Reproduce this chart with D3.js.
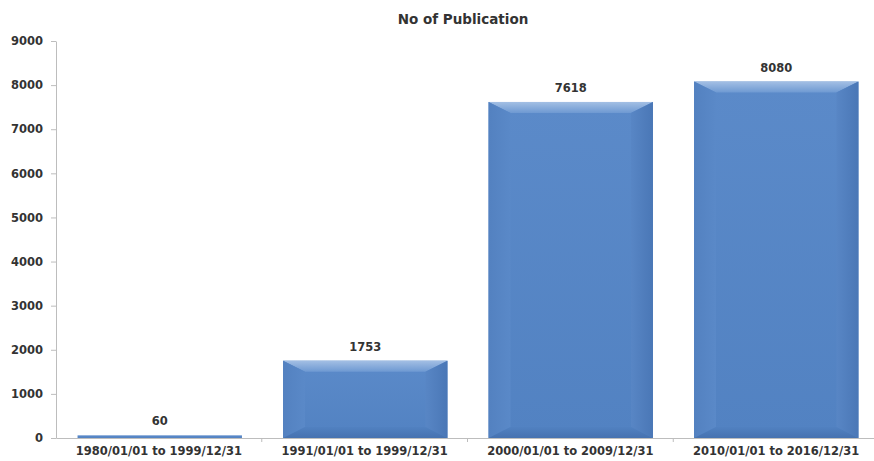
<!doctype html>
<html>
<head>
<meta charset="utf-8">
<title>No of Publication</title>
<script src="https://cdn.jsdelivr.net/npm/d3@7"></script>
<style>
  body { margin: 0; background: #fff; }
  text { font-family: "DejaVu Sans", Verdana, sans-serif; font-weight: bold; fill: #333; }
  .axis path, .axis line { stroke: #bdbdbd; }
</style>
</head>
<body>
<script>
var categories = ["1980/01/01 to 1999/12/31", "1991/01/01 to 1999/12/31", "2000/01/01 to 2009/12/31", "2010/01/01 to 2016/12/31"];
var values = [60, 1753, 7618, 8080];
var yTicks = [0, 1000, 2000, 3000, 4000, 5000, 6000, 7000, 8000, 9000];

var w = 874, h = 461,
    margin = {top: 41, right: -5, bottom: 23, left: 56};

var svg = d3.select("body").append("svg").attr("width", w).attr("height", h);

var defs = svg.append("defs");
function grad(id, x2, y2, stops) {
  var g = defs.append("linearGradient").attr("id", id)
    .attr("x1", 0).attr("y1", 0).attr("x2", x2).attr("y2", y2);
  stops.forEach(function (s) { g.append("stop").attr("offset", s[0]).attr("stop-color", s[1]); });
}
grad("face", 0, 1, [[0, "#5b8ac9"], [1, "#5282c2"]]);
grad("top", 0, 1, [[0, "#a3bfe4"], [1, "#6e99d2"]]);
grad("left", 1, 0, [[0, "#5381c0"], [1, "#5a89c8"]]);
grad("right", 1, 0, [[0, "#5886c5"], [1, "#4a77b6"]]);
grad("bottom", 0, 1, [[0, "#5181c1"], [1, "#4672b0"]]);

var x = d3.scaleBand().domain(categories).range([margin.left + 1, w - margin.right]).paddingInner(0.2).paddingOuter(0.1);
var y = d3.scaleLinear().domain([0, 9000]).range([h - margin.bottom, margin.top]);

svg.append("text").attr("x", 463).attr("y", 24).attr("text-anchor", "middle")
  .style("font-size", "13.5px").text("No of Publication");

var yAxis = svg.append("g").attr("class", "axis").attr("transform", "translate(" + margin.left + ",0)")
  .call(d3.axisLeft(y).tickValues(yTicks).tickFormat(d3.format("d")).tickSize(5).tickSizeOuter(0).tickPadding(8));
yAxis.selectAll("text").style("font-size", "11.5px");

var band = d3.scaleBand().domain(categories).range([margin.left, w - margin.right]);
var xAxis = svg.append("g").attr("class", "axis").attr("transform", "translate(0," + y(0) + ")")
  .call(d3.axisBottom(band).tickSize(0).tickPadding(9));
xAxis.selectAll("text").style("font-size", "11.5px");
xAxis.selectAll(".sep").data(categories.slice(1)).enter().append("line").attr("class", "sep")
  .attr("x1", function (d) { return band(d); }).attr("x2", function (d) { return band(d); })
  .attr("y1", 0).attr("y2", 4);

var bars = svg.selectAll(".bar").data(values).enter().append("g").attr("class", "bar");
bars.each(function (v, i) {
  var g = d3.select(this);
  var x0 = x(categories[i]), x1 = x0 + x.bandwidth(), y0 = y(v), y1 = y(0);
  var hh = y1 - y0, b = Math.min(22, hh / 2, x.bandwidth() / 2), bt = Math.min(11, hh / 2);
  g.append("rect").attr("x", x0).attr("y", y0).attr("width", x1 - x0).attr("height", hh).attr("fill", "url(#face)");
  if (hh < 6) return;
  function poly(pts, fill) {
    g.append("polygon").attr("points", pts.map(function (p) { return p.join(","); }).join(" ")).attr("fill", fill);
  }
  poly([[x0, y0], [x1, y0], [x1 - b, y0 + bt], [x0 + b, y0 + bt]], "url(#top)");
  poly([[x0, y0], [x0 + b, y0 + bt], [x0 + b, y1 - bt], [x0, y1]], "url(#left)");
  poly([[x1, y0], [x1, y1], [x1 - b, y1 - bt], [x1 - b, y0 + bt]], "url(#right)");
  poly([[x0, y1], [x0 + b, y1 - bt], [x1 - b, y1 - bt], [x1, y1]], "url(#bottom)");
});

svg.selectAll(".lbl").data(values).enter().append("text").attr("class", "lbl")
  .attr("x", function (d, i) { return x(categories[i]) + x.bandwidth() / 2; })
  .attr("y", function (d) { return y(d) - 10; })
  .attr("text-anchor", "middle").style("font-size", "11.5px")
  .text(function (d) { return d; });
</script>
</body>
</html>
